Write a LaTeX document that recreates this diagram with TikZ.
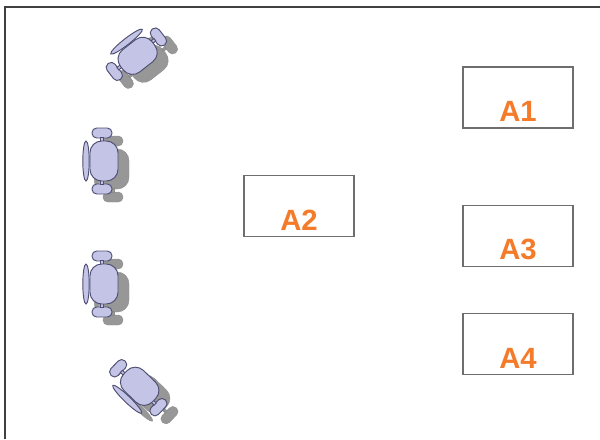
\documentclass[tikz,border=0pt]{standalone}
\usepackage{fontspec}
\setmainfont{Liberation Sans}
\usetikzlibrary{positioning}

\definecolor{orangeA}{HTML}{F47B2A}
\definecolor{lavande}{HTML}{C4C4E6}
\definecolor{bordchaise}{HTML}{4E4E72}
\definecolor{ombre}{HTML}{8C8C8C}
\definecolor{bordtable}{HTML}{6E6E6E}

\tikzset{
  cadre/.style={draw=black!75, line width=1.6pt},
  bureau/.style={draw=bordtable, line width=1.3pt, fill=white,
    minimum width=3.3cm, minimum height=1.83cm, inner sep=0pt},
  etiquette/.style={text=orangeA, font=\bfseries\fontsize{25}{30}\selectfont, inner sep=0pt}
}

% Une chaise vue de dessus, dossier a gauche
\newcommand{\chaiseforme}[1]{%
  \draw[#1, rounded corners=4] (-11,-33) rectangle (9,-23);
  \draw[#1, rounded corners=4] (-11,23) rectangle (9,33);
  \draw[#1] (-2.5,-23.5) rectangle (0.5,-19);
  \draw[#1] (-2.5,19) rectangle (0.5,23.5);
  \draw[#1, rounded corners=10] (-13,-20) rectangle (15,20);
  \draw[#1] (-17,0) ellipse (3.2 and 20);
}
\newcommand{\chaise}[3]{%
  \begin{scope}[shift={(#1+11,#2+8)}, rotate=#3]
    \chaiseforme{fill=ombre, draw=ombre, opacity=0.9}
  \end{scope}
  \begin{scope}[shift={(#1,#2)}, rotate=#3]
    \chaiseforme{fill=lavande, draw=bordchaise, line width=0.8pt}
  \end{scope}
}

\begin{document}
\begin{tikzpicture}[x=0.03cm, y=-0.03cm]
  \useasboundingbox (0,0) rectangle (600,439);

  % Le cadre
  \draw[cadre] (5,439) -- (5,7) -- (600,7);

  % Les chaises
  \chaise{137}{55}{-52}
  \chaise{103}{161}{0}
  \chaise{103}{284}{0}
  \chaise{139}{387}{46}

  % Les tables
  \node[bureau] (a1) at (518,97.5) {};
  \node[bureau] (a2) at (299,206) {};
  \node[bureau] (a3) at (518,236) {};
  \node[bureau] (a4) at (518,344) {};

  % Les lettres
  \node[etiquette, anchor=south] (a1t) at ([yshift=6pt]a1.south) {A1};
  \node[etiquette, anchor=south] (a2t) at ([yshift=6pt]a2.south) {A2};
  \node[etiquette, anchor=south] (a3t) at ([yshift=6pt]a3.south) {A3};
  \node[etiquette, anchor=south] (a4t) at ([yshift=6pt]a4.south) {A4};

\end{tikzpicture}
\end{document}
